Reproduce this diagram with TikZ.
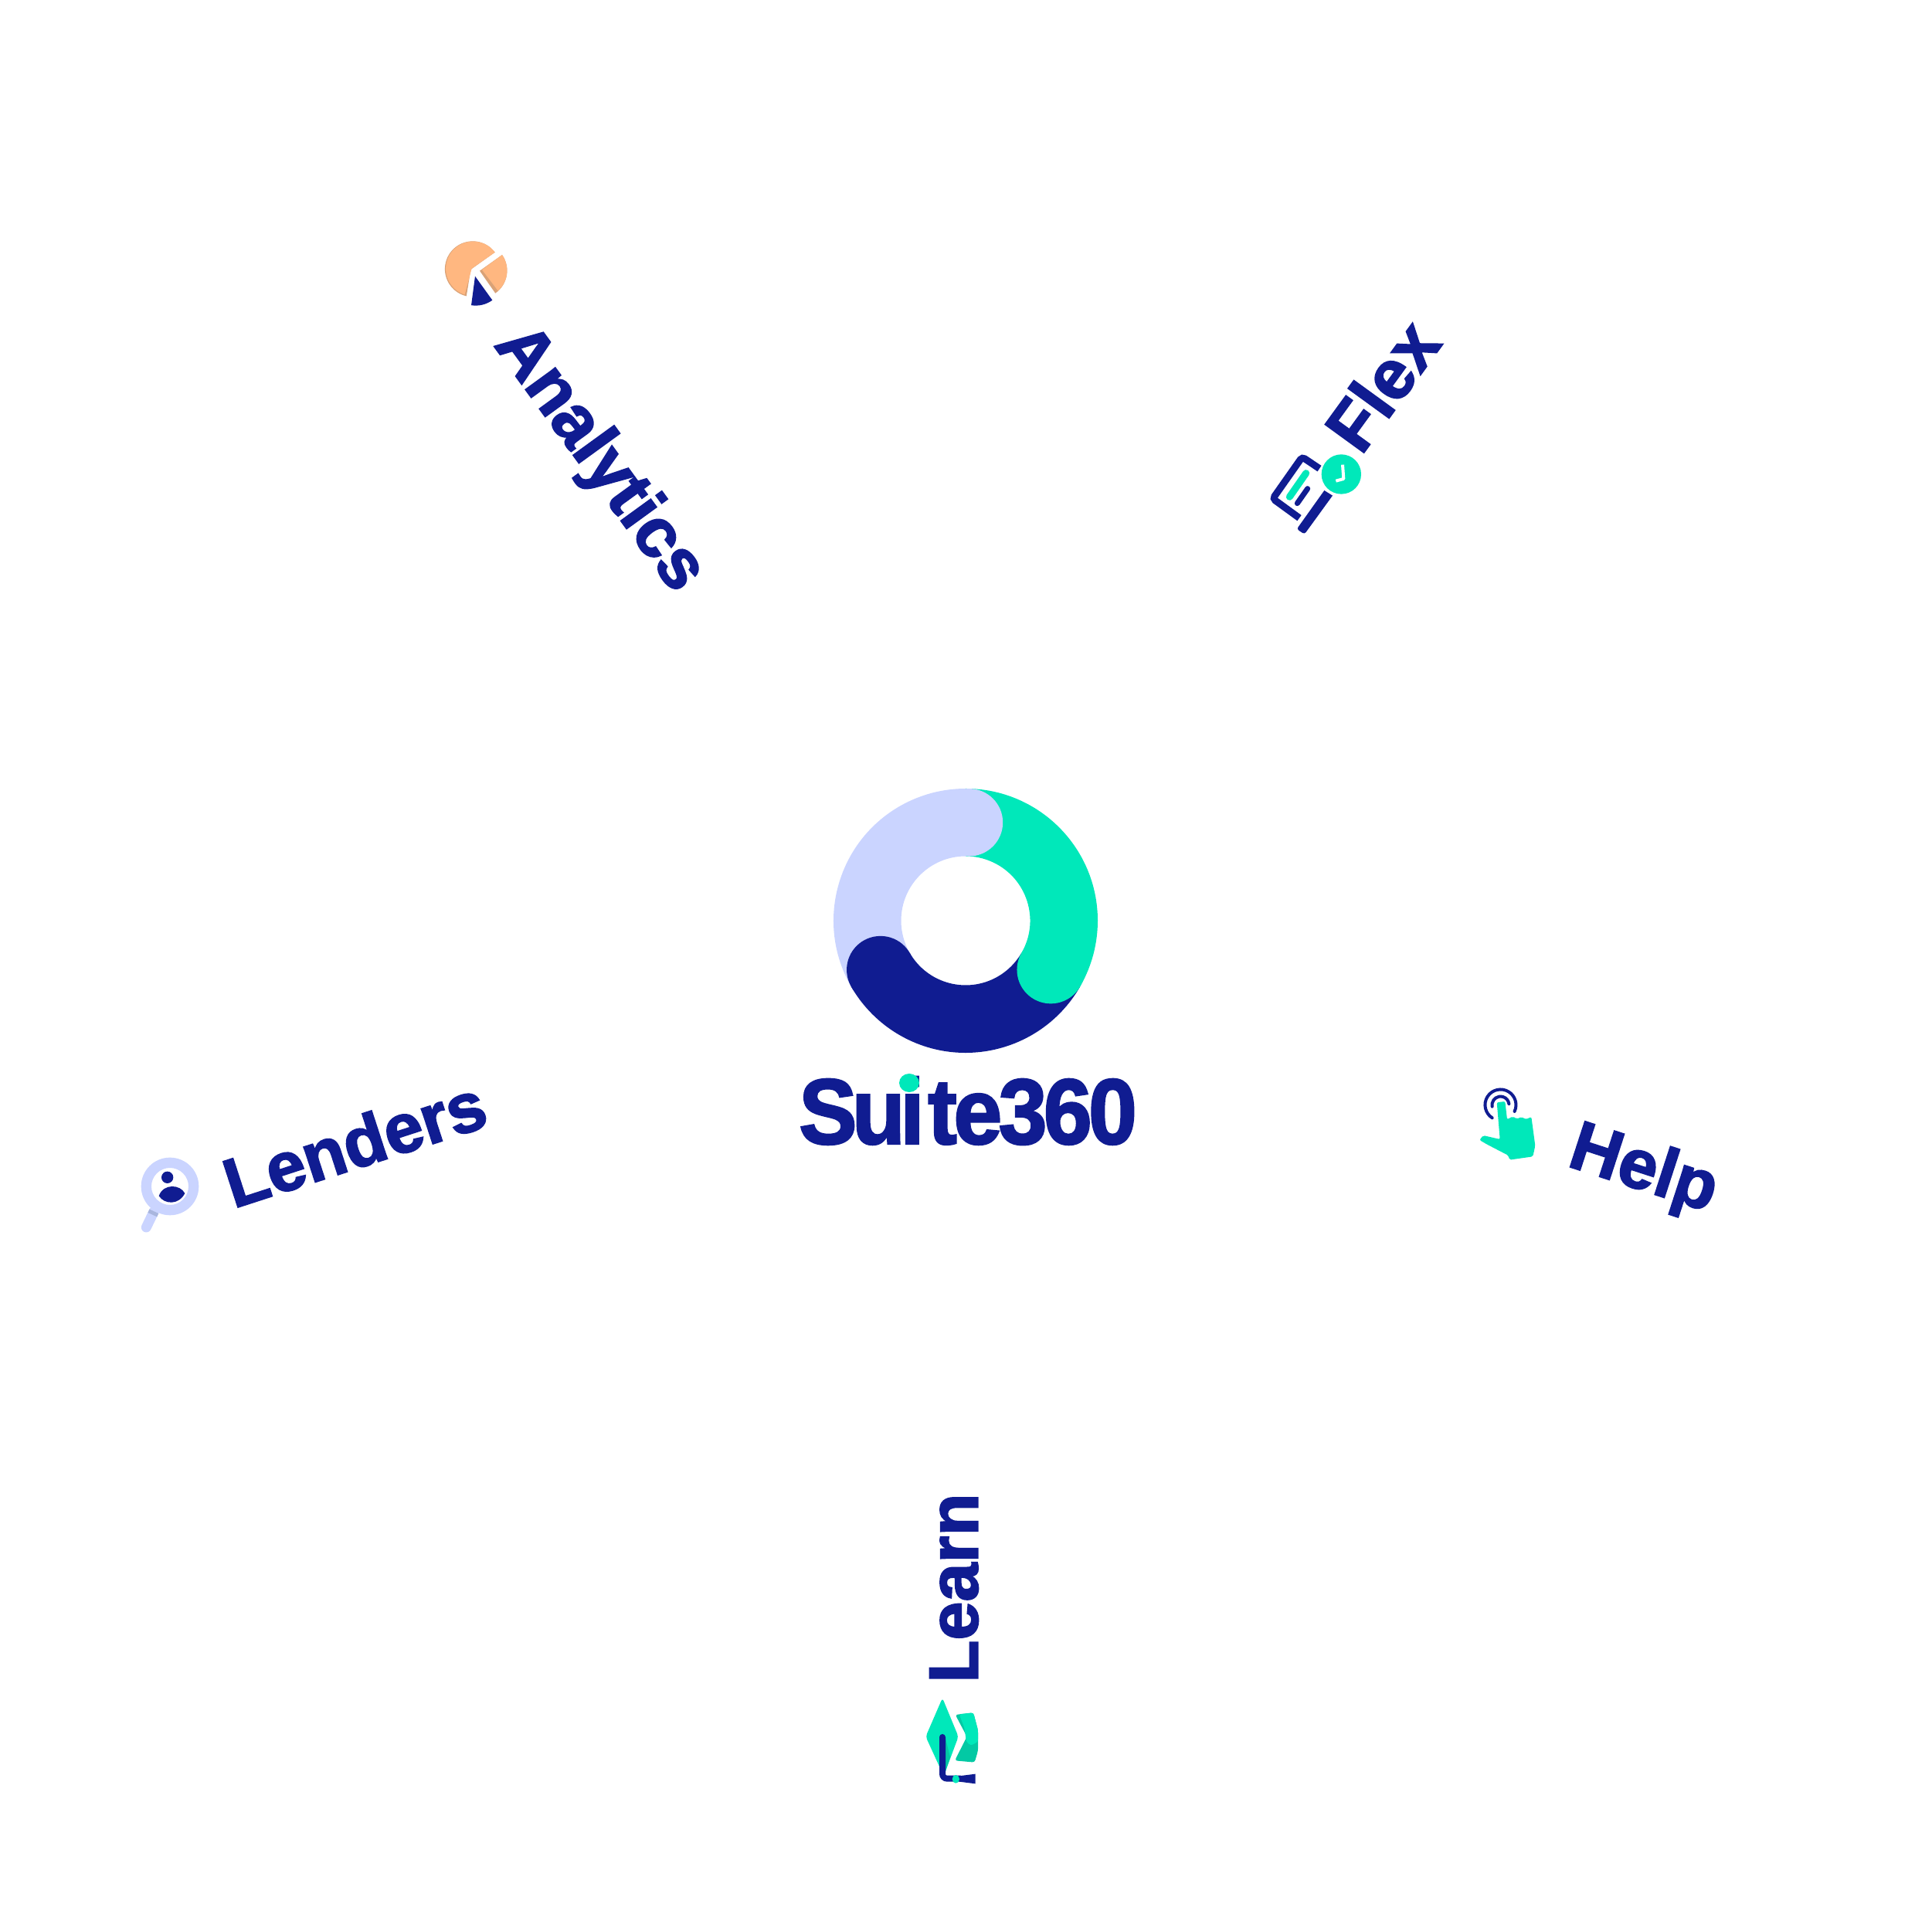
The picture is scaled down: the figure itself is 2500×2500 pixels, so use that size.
\documentclass[tikz,border=0pt]{standalone}
\usepackage{fontspec}
\setmainfont{Liberation Sans}[BoldFeatures={FakeBold=2.2}]
\usetikzlibrary{positioning}
\definecolor{navy}{HTML}{101C91}
\definecolor{mint}{HTML}{00E8BA}
\definecolor{mintdark}{HTML}{03C9A4}
\definecolor{lilac}{HTML}{CAD4FF}
\definecolor{lilacdark}{HTML}{A9B6DE}
\definecolor{peach}{HTML}{FFB780}
\definecolor{peachdark}{HTML}{D9A277}
\begin{document}
\begin{tikzpicture}[x=1pt,y=1pt]
\tikzstyle{spoke}=[text=navy,font=\fontsize{90}{94}\selectfont\bfseries,inner sep=0pt]
\tikzstyle{zoomed}=[scale=1/3,yscale=-1]
\useasboundingbox (0,0) rectangle (2500,2500);

% logo ring
\begin{scope}[shift={(1250,1308)}]
\fill[lilac] (210:171) arc [start angle=210, end angle=90, radius=171] -- (90:83.5) arc [start angle=90, end angle=210, radius=83.5] -- cycle;
\fill[navy] (330:171) arc [start angle=330, end angle=210, radius=171] -- (210:83.5) arc [start angle=210, end angle=330, radius=83.5] -- cycle;
\fill[navy] (210:127.25) circle [radius=43.75];
\fill[mint] (90:171) arc [start angle=90, end angle=-30, radius=171] -- (-30:83.5) arc [start angle=-30, end angle=90, radius=83.5] -- cycle;
\fill[mint] (-30:127.25) circle [radius=43.75];
\fill[lilac] (88:127.25) circle [radius=43.75];
\end{scope}

\node[text=navy,font=\fontsize{120}{125}\selectfont\bfseries\addfontfeature{LetterSpace=-4},inner sep=0pt,xscale=.94] (title) at (1253,1062) {S\kern-7pt u\kern-7pt i\kern5pt te360};
\fill[mint] (1177,1098) ellipse [x radius=13, y radius=12];

\node[spoke,rotate=-54] (analytics) at (775,1905) {Analytics};
\node[spoke,rotate=54] (flex) at (1789,2001) {Flex};
\node[spoke,rotate=-18] (help) at (2127,983) {Help};
\node[spoke,rotate=18] (lenders) at (459,1020) {Lenders};
\node[spoke,rotate=90] (learn) at (1235,444) {Learn};

% pie icon
\begin{scope}[shift={(550,2220)},zoomed]
\fill[peachdark] (178,207) -- (272,140) arc [start angle=-37, end angle=-257, radius=108] -- cycle;
\fill[peach] (182,203) -- (272,140) arc [start angle=-37, end angle=-252, radius=106] -- cycle;
\fill[peachdark] (213,212) -- (300,150) arc [start angle=-35, end angle=55, radius=107] -- cycle;
\fill[peach] (222,208) -- (300,150) arc [start angle=-35, end angle=48, radius=106] -- cycle;
\fill[navy] (195,233) -- (262,326) arc [start angle=54, end angle=99, radius=110] -- cycle;
\end{scope}

% document icon
\begin{scope}[shift={(1620,1940)},zoomed]
\draw[navy,line width=9pt,rounded corners=4pt] (264,140) -- (197,95) -- (83,257) -- (186,332);
\fill[navy] (283,225) -- (315,245) [rounded corners=3pt]-- (206,395) -- (176,375) [sharp corners]-- cycle;
\draw[mint,line width=9pt,line cap=round] (212,158) -- (148,250);
\draw[navy,line width=7pt,line cap=round] (218,218) -- (178,275);
\fill[mint] (349,162) circle [radius=77];
\draw[white,line width=4pt,line join=round] (354,125) -- (358,180) -- (328,188);
\end{scope}

% hand icon
\begin{scope}[shift={(1890,1110)},zoomed]
\draw[navy,line width=4pt,line cap=round] (125,172) arc [start angle=122.6, end angle=385, radius=60];
\draw[navy,line width=4pt,line cap=round] (125,128) arc [start angle=169, end angle=353, radius=33];
\fill[mint,rounded corners=2pt] (143,112) -- (175,108) -- (183,178) -- (205,166) -- (220,176) -- (240,168) -- (255,178) -- (277,168) -- (292,280) -- (283,322) -- (192,335) -- (188,318) -- (105,275) -- (76,258) -- (90,240) -- (155,255) -- cycle;
\end{scope}

% cap icon
\begin{scope}[shift={(1180,320)},zoomed]
\fill[mint,rounded corners=4pt] (120,55) -- (182,205) -- (125,358) -- (55,205) -- cycle;
\fill[mintdark] (130,205) -- (150,285) -- (130,345) -- cycle;
\fill[mintdark,rounded corners=3pt] (170,120) -- (240,112) -- (258,180) -- (258,260) -- (245,305) -- (168,298) -- (215,205) -- cycle;
\fill[mint,rounded corners=3pt] (185,118) -- (240,112) -- (258,180) -- (258,225) -- (230,240) -- (213,225) -- (205,170) -- cycle;
\draw[navy,line width=8pt,line cap=round,rounded corners=6pt] (120,207) -- (120,368) -- (190,368);
\fill[navy] (185,358) -- (248,350) -- (248,388) -- (185,380) -- cycle;
\fill[mint] (172,370) ellipse [x radius=14, y radius=16];
\end{scope}

% magnifier icon
\begin{scope}[shift={(160,1020)},zoomed]
\draw[lilac,line width=13pt,line cap=round] (118,265) -- (88,327);
\draw[lilacdark,line width=13pt] (118,265) -- (112,278);
\fill[lilac,even odd rule] (180,168) circle [radius=112] (180,168) circle [radius=72];
\fill[navy] (170,133) circle [radius=23];
\fill[navy] (137,205) .. controls (155,155) and (220,160) .. (238,195) .. controls (215,240) and (160,240) .. (137,205) -- cycle;
\end{scope}
\end{tikzpicture}
\end{document}
